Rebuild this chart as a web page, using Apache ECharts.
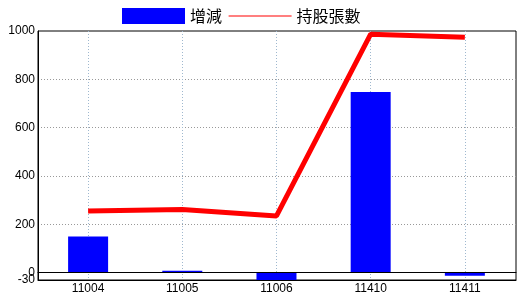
<!DOCTYPE html>
<html><head><meta charset="utf-8">
<script src="https://cdn.jsdelivr.net/npm/echarts@6/dist/echarts.min.js"></script>
<style>html,body{margin:0;padding:0;background:#fff}#c{width:520px;height:300px}</style>
</head><body><div id="c"></div>
<script>
var categories = ['11004', '11005', '11006', '11410', '11411'];
var changeValues = [150, 8, -30, 748, -12];
var holdingValues = [255, 262, 235, 987, 974];
var seriesNames = ['增減', '持股張數'];
var yTickLabels = [0, 200, 400, 600, 800, 1000];
var yMinLabel = [-30];

var labelFont = { fontFamily: 'Liberation Sans, Arial, sans-serif', fontSize: 12, color: '#000' };
var xMin = -0.532, xMax = 4.543, yMin = -30, yMax = 1000;
var chart = echarts.init(document.getElementById('c'), null, { renderer: 'canvas' });
chart.setOption({
  animation: false,
  backgroundColor: '#fff',
  legend: {
    left: 122, top: 8, itemWidth: 63, itemHeight: 16, itemGap: 6, padding: 0,
    textStyle: { fontFamily: 'Noto Sans CJK TC', fontSize: 16, color: '#000' },
    data: [
      { name: seriesNames[0], icon: 'rect' },
      { name: seriesNames[1], itemStyle: { opacity: 0 }, lineStyle: { width: 1.2, color: '#ff0000', opacity: 1 } }
    ]
  },
  grid: { left: 38, right: 4, top: 31, bottom: 20, show: true, borderColor: '#000', borderWidth: 1, outerBoundsMode: 'none' },
  xAxis: [{
    type: 'value', min: xMin, max: xMax, minInterval: 1, maxInterval: 1,
    axisLine: { show: true, onZero: false, lineStyle: { color: '#000' } },
    axisTick: { show: false },
    axisLabel: Object.assign({ margin: 3, formatter: function (v) { return Number.isInteger(v) ? categories[v] : ''; } }, labelFont),
    splitLine: { show: true, showMinLine: false, showMaxLine: false, lineStyle: { color: '#9fb8cf', type: [1, 2], width: 1 } }
  }, {
    type: 'value', min: xMin, max: xMax, position: 'bottom', z: 5,
    axisLine: { show: true, onZero: true, onZeroAxisIndex: 0, lineStyle: { color: '#000', width: 1 } },
    axisTick: { show: false }, axisLabel: { show: false }, splitLine: { show: false }
  }],
  yAxis: [{
    type: 'value', min: yMin, max: yMax,
    axisLine: { show: true, onZero: false, lineStyle: { color: '#000' } },
    axisTick: { show: false },
    axisLabel: Object.assign({ margin: 3, customValues: yTickLabels, formatter: function (v) { return String(v); } }, labelFont),
    splitLine: { show: true, showMinLine: false, showMaxLine: false, lineStyle: { color: '#999', type: [1, 2], width: 1 } },
    minInterval: 200, maxInterval: 200
  }, {
    type: 'value', min: yMin, max: yMax, position: 'left', offset: 0,
    axisLine: { show: false, onZero: false }, axisTick: { show: false }, splitLine: { show: false },
    axisLabel: Object.assign({ margin: 3, customValues: yMinLabel, showMinLabel: true, formatter: function (v) { return String(v); } }, labelFont)
  }],
  series: [
    {
      name: seriesNames[0], type: 'bar', barWidth: 40,
      itemStyle: { color: '#0000ff' },
      data: changeValues.map(function (v, i) { return [i, v]; })
    },
    {
      name: seriesNames[1], type: 'line', showSymbol: false, symbol: 'none', z: 3,
      lineStyle: { color: '#ff0000', width: 5 }, itemStyle: { color: '#ff0000' },
      data: holdingValues.map(function (v, i) { return [i, v]; })
    }
  ]
});
</script></body></html>
